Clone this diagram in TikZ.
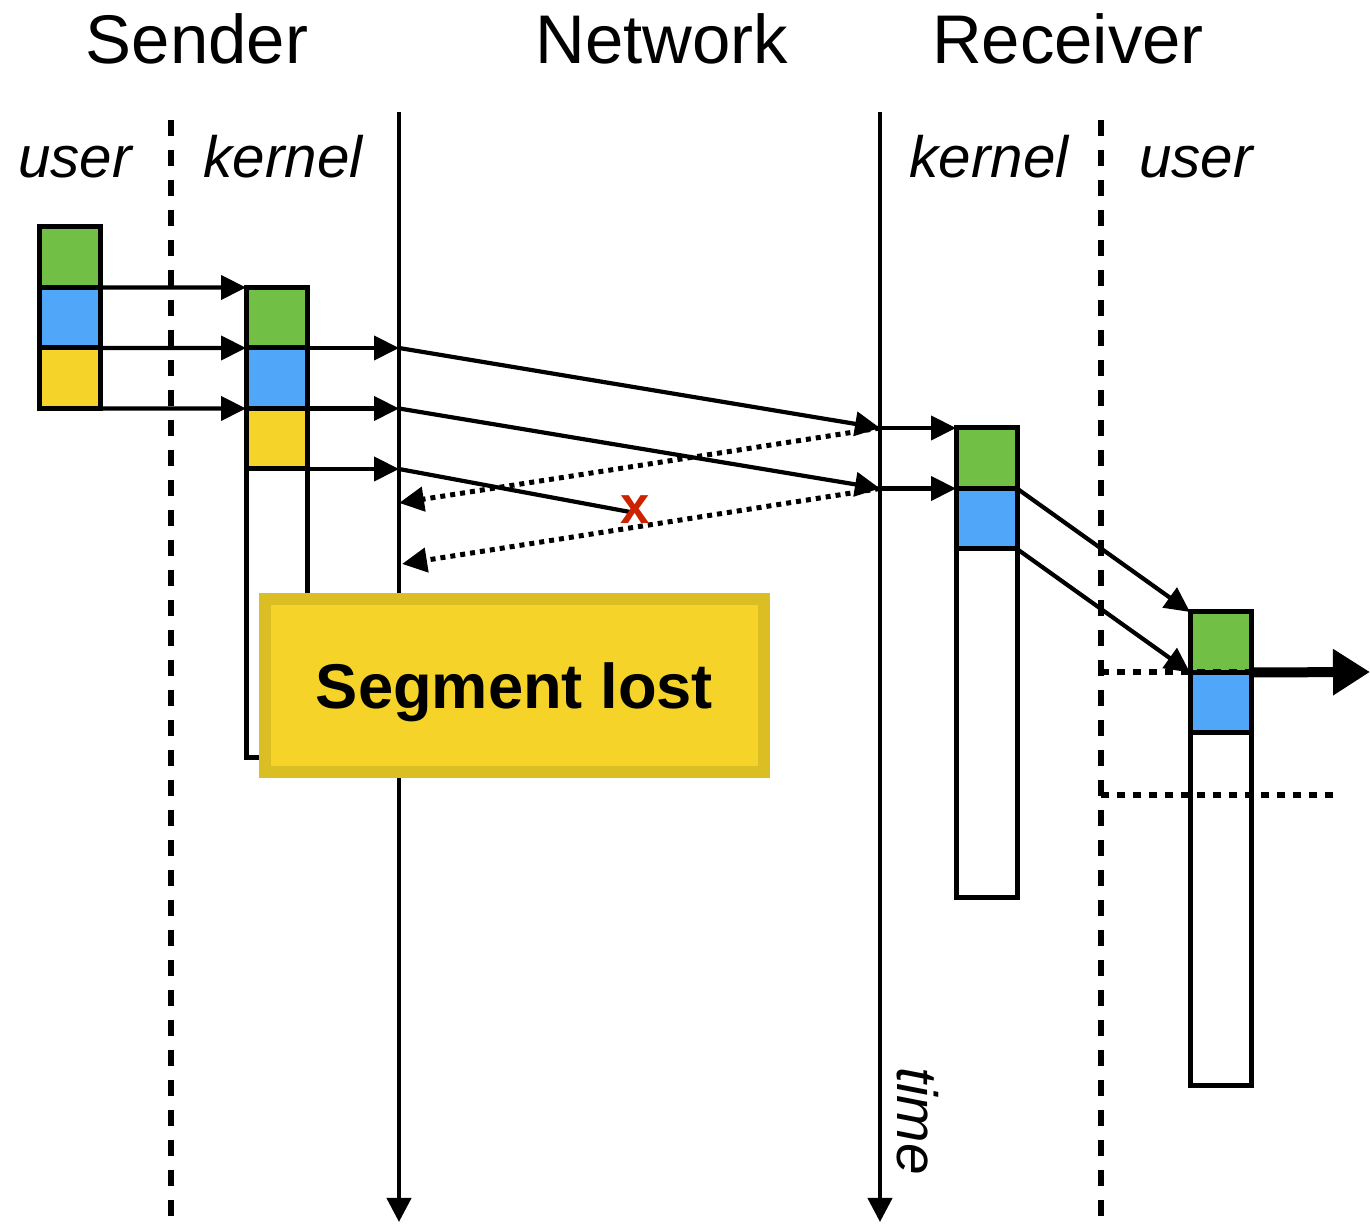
\documentclass[tikz,border=0pt]{standalone}
\usepackage{fontspec}
\setmainfont{Liberation Sans}
\usepackage{xcolor}
\usetikzlibrary{arrows.meta,positioning}
\definecolor{cgreen}{HTML}{71BF44}
\definecolor{cblue}{HTML}{50A7F9}
\definecolor{cyellow}{HTML}{F5D329}
\definecolor{cborder}{HTML}{DBBD24}
\definecolor{cred}{HTML}{CC2200}
\tikzset{buf/.style={rectangle,draw,line width=0.05cm,minimum width=0.61cm,minimum height=0.605cm,inner sep=0pt,outer sep=0pt},
  hdr/.style={font=\fontsize{19.6}{23}\selectfont,anchor=base},
  side/.style={font=\fontsize{16.6}{20}\selectfont\itshape,anchor=base},
  lostbox/.style={rectangle,draw=cborder,fill=cyellow,line width=0.12cm,minimum width=4.99cm,minimum height=1.73cm,text depth=0pt,font=\fontsize{18}{21}\selectfont\bfseries},}
\tikzstyle{arrow} = [line width=0.042cm,-{Triangle[length=0.25cm,width=0.24cm]}]
\tikzstyle{ack} = [arrow,line width=0.05cm,dash pattern=on 0.05cm off 0.05cm]
\tikzstyle{timeline} = [line width=0.042cm,-{Triangle[length=0.24cm,width=0.24cm]}]
\tikzstyle{layer} = [line width=0.065cm,dash pattern=on 0.16cm off 0.14cm]
\tikzstyle{cut} = [line width=0.06cm,dash pattern=on 0.08cm off 0.08cm]
\tikzstyle{bigarrow} = [line width=0.1cm,-{Triangle[length=0.37cm,width=0.44cm]}]

\begin{document}
\begin{tikzpicture}
    \useasboundingbox (0,0) rectangle (13.70,-12.25);

    \node[hdr] (snd) at (1.97,-0.64) {Sender};
    \node[hdr] (net) at (6.62,-0.64) {Network};
    \node[hdr] (rcv) at (10.68,-0.64) {Receiver};
    \node[side] (suser) at (0.75,-1.78) {user};
    \node[side] (skern) at (2.83,-1.78) {kernel};
    \node[side] (rkern) at (9.89,-1.78) {kernel};
    \node[side] (ruser) at (11.96,-1.78) {user};

    % time lines and user/kernel borders
    \coordinate (st) at (3.99,-1.12);
    \coordinate (sb) at (3.99,-12.22);
    \coordinate (rt) at (8.80,-1.12);
    \coordinate (rb) at (8.80,-12.22);
    \coordinate (lt) at (1.71,-1.20);
    \coordinate (lb) at (1.71,-12.25);
    \coordinate (mt) at (11.01,-1.20);
    \coordinate (mb) at (11.01,-12.25);
    \draw [timeline] (st) -- (sb);
    \draw [timeline] (rt) -- (rb);
    \draw [layer] (lt) -- (lb);
    \draw [layer] (mt) -- (mb);
    \node[font=\fontsize{16.2}{19}\selectfont\itshape,rotate=-90] (tm) at (9.18,-11.21) {time};

    % buffers
    \node[buf,fill=cgreen,anchor=north west] (su1) at (0.40,-2.27) {};
    \node[buf,fill=cblue] (su2)[below=0cm of su1] {};
    \node[buf,fill=cyellow] (su3)[below=0cm of su2] {};

    \node[buf,fill=cgreen,anchor=north west] (sk1) at (2.46,-2.875) {};
    \node[buf,fill=cblue] (sk2)[below=0cm of sk1] {};
    \node[buf,fill=cyellow] (sk3)[below=0cm of sk2] {};
    \node[buf,fill=white,minimum height=2.89cm] (skx)[below=0cm of sk3] {};

    \node[buf,fill=cgreen,anchor=north west] (rk1) at (9.56,-4.28) {};
    \node[buf,fill=cblue] (rk2)[below=0cm of rk1] {};
    \node[buf,fill=white,minimum height=3.49cm] (rkx)[below=0cm of rk2] {};

    \node[buf,fill=cgreen,anchor=north west] (ru1) at (11.90,-6.12) {};
    \node[buf,fill=cblue] (ru2)[below=0cm of ru1] {};
    \node[buf,fill=white,minimum height=3.53cm] (rux)[below=0cm of ru2] {};

    \coordinate (s1) at (sk1.south east -| st);
    \coordinate (s2) at (sk2.south east -| st);
    \coordinate (s3) at (sk3.south east -| st);
    \coordinate (r1) at (rk1.north west -| rt);
    \coordinate (r2) at (rk2.north west -| rt);
    \coordinate (lost) at (6.30,-5.12);
    \coordinate (a1) at (3.99,-5.03);
    \coordinate (a2) at (4.02,-5.64);

    \draw [arrow] (su1.south east) -- (sk1.north west);
    \draw [arrow] (su2.south east) -- (sk2.north west);
    \draw [arrow] (su3.south east) -- (sk3.north west);
    \draw [arrow] (sk1.south east) -- (s1);
    \draw [arrow] (sk2.south east) -- (s2);
    \draw [arrow] (sk3.south east) -- (s3);
    \draw [arrow] (s1) -- (r1);
    \draw [arrow] (s2) -- (r2);
    \draw [line width=0.042cm] (s3) -- (lost);
    \draw [ack] (r1) -- (a1);
    \draw [ack] (r2) -- (a2);
    \node[font=\fontsize{15}{18}\selectfont\bfseries,text=cred,inner sep=0pt] (x) at (6.35,-5.10) {x};
    \draw [arrow] (r1) -- (rk1.north west);
    \draw [arrow] (r2) -- (rk2.north west);
    \draw [arrow] (rk1.south east) -- (ru1.north west);
    \draw [arrow] (rk2.south east) -- (ru2.north west);

    \coordinate (c1) at (ru2.north west -| mt);
    \coordinate (c2) at (11.01,-7.95);
    \coordinate (c3) at (13.35,-7.95);
    \coordinate (out) at (13.70,-6.72);
    \draw [cut] (c1) -- (ru2.north east);
    \draw [cut] (c2) -- (c3);
    \draw [bigarrow] (ru2.north east) -- (out);

    \node[lostbox] (msg) at (5.145,-6.855) {Segment lost};
\end{tikzpicture}
\end{document}
